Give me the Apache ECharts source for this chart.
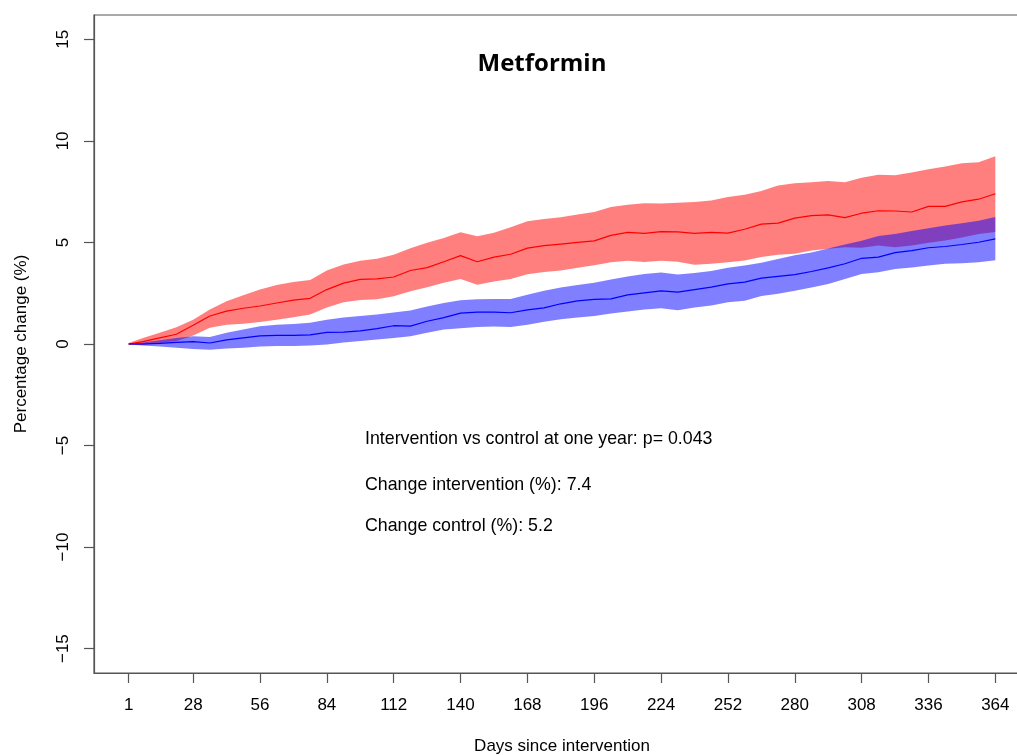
<!DOCTYPE html>
<html>
<head>
<meta charset="utf-8">
<script src="https://cdn.jsdelivr.net/npm/echarts@6/dist/echarts.min.js"></script>
<style>html,body{margin:0;padding:0;background:#fff;}#c{width:1017px;height:755px;}</style>
</head>
<body>
<div id="c"></div>
<script>
const days = [1,7,14,21,28,35,42,49,56,63,70,77,84,91,98,105,112,119,126,133,140,147,154,161,168,175,182,189,196,203,210,217,224,231,238,245,252,259,266,273,280,287,294,301,308,315,322,329,336,343,350,357,364];
const interventionMean = [0,0.12,0.3,0.48,0.92,1.38,1.62,1.76,1.87,2.02,2.16,2.25,2.68,3.0,3.18,3.21,3.3,3.62,3.76,4.05,4.35,4.05,4.28,4.42,4.72,4.84,4.92,5.0,5.08,5.35,5.5,5.45,5.53,5.52,5.45,5.5,5.46,5.65,5.9,5.95,6.2,6.32,6.36,6.22,6.44,6.56,6.55,6.5,6.78,6.78,7.0,7.13,7.4];
const interventionUpper = [0.05,0.3,0.55,0.82,1.2,1.7,2.1,2.4,2.68,2.9,3.05,3.15,3.62,3.92,4.1,4.2,4.4,4.72,4.98,5.22,5.5,5.3,5.48,5.75,6.05,6.15,6.24,6.38,6.5,6.75,6.86,6.93,6.92,6.96,6.99,7.06,7.24,7.35,7.53,7.8,7.92,7.97,8.03,7.97,8.19,8.33,8.31,8.45,8.6,8.74,8.9,8.95,9.25];
const interventionLower = [-0.05,-0.05,0.05,0.15,0.42,0.8,0.95,1.0,1.08,1.2,1.32,1.45,1.8,2.05,2.17,2.2,2.35,2.6,2.8,3.02,3.2,2.92,3.08,3.2,3.43,3.55,3.62,3.75,3.88,4.02,4.1,4.04,4.1,4.05,3.9,3.95,4.03,4.11,4.28,4.4,4.44,4.6,4.69,4.77,4.74,4.85,4.77,4.85,4.98,5.1,5.25,5.42,5.51];
const controlMean = [0,0,0.03,0.08,0.12,0.05,0.2,0.3,0.4,0.42,0.42,0.45,0.57,0.58,0.65,0.76,0.9,0.88,1.12,1.3,1.52,1.57,1.57,1.54,1.68,1.78,1.98,2.12,2.2,2.22,2.42,2.52,2.62,2.55,2.68,2.8,2.96,3.05,3.24,3.33,3.42,3.57,3.75,3.95,4.22,4.28,4.5,4.6,4.74,4.8,4.9,5.01,5.18];
const controlUpper = [0.02,0.08,0.18,0.3,0.38,0.35,0.55,0.72,0.88,0.95,0.98,1.05,1.2,1.3,1.38,1.45,1.55,1.65,1.85,2.02,2.16,2.2,2.22,2.22,2.42,2.62,2.78,2.9,3.02,3.18,3.32,3.45,3.52,3.42,3.5,3.6,3.76,3.86,4.0,4.18,4.37,4.5,4.7,4.9,5.08,5.32,5.42,5.57,5.7,5.83,5.95,6.07,6.25];
const controlLower = [-0.02,-0.08,-0.12,-0.18,-0.25,-0.28,-0.22,-0.18,-0.12,-0.1,-0.1,-0.08,-0.02,0.08,0.15,0.22,0.3,0.38,0.55,0.72,0.78,0.84,0.86,0.84,0.95,1.1,1.22,1.3,1.38,1.5,1.6,1.7,1.76,1.66,1.8,1.9,2.05,2.13,2.36,2.47,2.62,2.78,2.95,3.2,3.45,3.53,3.69,3.77,3.86,3.95,3.97,4.03,4.12];
const xTicks = [1,28,56,84,112,140,168,196,224,252,280,308,336,364];
const yTicks = [-15,-10,-5,0,5,10,15];
const titleText = 'Metformin';
const notes = ['Intervention vs control at one year: p= 0.043','Change intervention (%): 7.4','Change control (%): 5.2'];

const chart = echarts.init(document.getElementById('c'), null, {renderer:'canvas'});
const FONT = '"Liberation Sans", Arial, sans-serif';
const AX = '#555';

function band(lower, upper, color, z) {
  return {
    type: 'custom',
    z: z,
    silent: true,
    data: days.map((d,i)=>[d, lower[i], upper[i]]),
    encode: {x:0, y:[1,2]},
    renderItem: function(params, api) {
      if (params.dataIndex !== 0) return null;
      const pts = [];
      for (let i=0;i<days.length;i++) pts.push(api.coord([days[i], upper[i]]));
      for (let i=days.length-1;i>=0;i--) pts.push(api.coord([days[i], lower[i]]));
      return {type:'polygon', shape:{points:pts}, style:{fill:color, stroke:null}};
    }
  };
}
function line(vals, color, z) {
  return {
    type:'line', z:z, symbol:'none', silent:true,
    data: days.map((d,i)=>[d, vals[i]]),
    lineStyle:{color:color, width:1.2}
  };
}

chart.setOption({
  animation:false,
  backgroundColor:'#fff',
  grid:{left:94, top:15, right:-13, bottom:82, show:true, borderColor:AX, borderWidth:1.2, outerBoundsMode:'none', containLabel:false},
  xAxis:{
    type:'value', min:-13.52, max:378.52,
    name:'Days since intervention', nameLocation:'middle', nameGap:65,
    nameTextStyle:{fontFamily:FONT, fontSize:17, color:'#000'},
    axisLine:{show:true, onZero:false, lineStyle:{color:AX, width:1.2}},
    axisTick:{show:true, inside:false, length:10, lineStyle:{color:AX, width:1.2}, customValues:xTicks},
    axisLabel:{show:true, customValues:xTicks, fontFamily:FONT, fontSize:17, color:'#000', margin:24},
    splitLine:{show:false}
  },
  yAxis:{
    type:'value', min:-16.2, max:16.2,
    name:'Percentage change (%)', nameLocation:'middle', nameGap:64, nameRotate:90,
    nameTextStyle:{fontFamily:FONT, fontSize:17, color:'#000'},
    axisLine:{show:true, onZero:false, lineStyle:{color:AX, width:1.2}},
    axisTick:{show:true, inside:false, length:10, lineStyle:{color:AX, width:1.2}, customValues:yTicks},
    axisLabel:{show:true, customValues:yTicks, rotate:90, fontFamily:FONT, fontSize:17, color:'#000', margin:22,
      formatter:function(v){return v<0 ? '\u2212'+Math.abs(v) : String(v);}},
    splitLine:{show:false}
  },
  graphic:[
    {type:'text', x:542, y:64, style:{text:titleText, font:'bold 24px "Open Sans", "Noto Sans", sans-serif', fill:'#000', textAlign:'center', textVerticalAlign:'middle'}},
    {type:'text', x:365, y:439, style:{text:notes[0], font:'17.8px '+FONT, fill:'#000', textAlign:'left', textVerticalAlign:'middle'}},
    {type:'text', x:365, y:485, style:{text:notes[1], font:'17.8px '+FONT, fill:'#000', textAlign:'left', textVerticalAlign:'middle'}},
    {type:'text', x:365, y:526, style:{text:notes[2], font:'17.8px '+FONT, fill:'#000', textAlign:'left', textVerticalAlign:'middle'}}
  ],
  series:[
    band(interventionLower, interventionUpper, 'rgba(255,0,0,0.5)', 1),
    band(controlLower, controlUpper, 'rgba(0,0,255,0.5)', 2),
    line(interventionMean, '#ff0000', 3),
    line(controlMean, '#0000ff', 4)
  ]
});
</script>
</body>
</html>
